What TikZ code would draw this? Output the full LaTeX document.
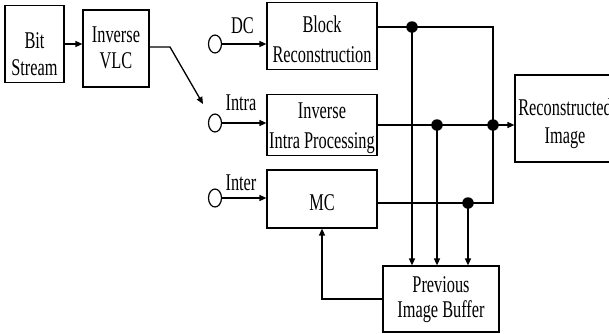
\documentclass[tikz,border=0pt]{standalone}
\usepackage{fontspec}
\setmainfont{Liberation Serif}
\usetikzlibrary{arrows.meta,shapes.geometric}
% #1 = height of the first row (moves the text down), #2 = lines
\newcommand{\sqz}[2][16.8pt]{\scalebox{0.68}[1]{\begin{tabular}{@{}c@{}}\rule{0pt}{#1}#2\end{tabular}}}
\tikzset{
  blk/.style={draw, line width=1.2pt, rectangle, inner sep=0pt, font=\fontsize{24}{24}\selectfont},
  lbl/.style={inner sep=0pt, anchor=base, font=\fontsize{24}{24}\selectfont},
  src/.style={draw, line width=1.2pt, ellipse, inner sep=0pt, minimum width=13pt, minimum height=18pt},
  wire/.style={line width=1.3pt},
  arr/.style={line width=1.3pt, -{Triangle[length=7pt,width=6pt]}},
  dot/.style={circle, fill=black, inner sep=0pt, minimum size=11.5pt}
}
\begin{document}
\begin{tikzpicture}[x=1pt,y=-1pt]
\useasboundingbox (0,0) rectangle (609,333);
\clip (0,0) rectangle (609,333);
% boxes
\node[blk, minimum width=59pt, minimum height=72pt] (bit) at (34.5,44) {\sqz[42.2pt]{Bit\\[3pt]Stream}};
\node[blk, minimum width=66pt, minimum height=77pt] (vlc) at (116,48.5) {\sqz[20.2pt]{Inverse\\[2pt]VLC}};
\node[blk, minimum width=110pt, minimum height=56pt] (brc) at (322,36) {\sqz[29.2pt]{Block\\[6pt]Reconstruction}};
\node[blk, minimum width=110pt, minimum height=56pt] (iip) at (322,125) {\sqz[23.2pt]{Inverse\\[6pt]Intra Processing}};
\node[blk, minimum width=110pt, minimum height=58pt] (mc) at (322,199) {\sqz[29.2pt]{MC}};
\node[blk, minimum width=116pt, minimum height=66pt] (pib) at (441,299) {\sqz[19.2pt]{Previous\\Image Buffer}};
\node[blk, minimum width=100pt, minimum height=87pt] (rec) at (565,118.5) {\sqz[28.2pt]{Reconstructed\\[4pt]Image}};
% sources
\node[src] (edc) at (215,44) {};
\node[src] (ein) at (215,123) {};
\node[src] (eit) at (215,198) {};
\node[lbl] (ldc) at (242.5,35) {\sqz{DC}};
\node[lbl] (lin) at (241,112) {\sqz{Intra}};
\node[lbl] (lit) at (241,192) {\sqz{Inter}};
% junctions
\coordinate (j1) at (412,27);
\coordinate (j2) at (437,125);
\coordinate (j3) at (468,203);
\coordinate (jr) at (493,125);
\coordinate (c1) at (493,27);
\coordinate (c3) at (493,203);
\coordinate (vk) at (170,47);
\coordinate (va) at (203,104);
% connectors
\draw[arr] (bit.east) -- (bit.east -| vlc.west);
\draw[arr] (vlc.east |- vk) -- (vk) -- (va);
\draw[arr] (edc.east) -- (edc.east -| brc.west);
\draw[arr] (ein.east) -- (ein.east -| iip.west);
\draw[arr] (eit.east) -- (eit.east -| mc.west);
\draw[wire] (brc.east |- j1) -- (j1) -- (c1) -- (c3) -- (j3) -- (mc.east |- j3);
\draw[wire] (iip.east |- j2) -- (j2) -- (jr);
\draw[arr] (jr) -- (jr -| rec.west);
\draw[arr] (j1) -- (j1 |- pib.north);
\draw[arr] (j2) -- (j2 |- pib.north);
\draw[arr] (j3) -- (j3 |- pib.north);
\draw[arr] (pib.west) -| (mc.south);
\node[dot] at (j1) {};
\node[dot] at (j2) {};
\node[dot] at (j3) {};
\node[dot] at (jr) {};
\end{tikzpicture}
\end{document}
